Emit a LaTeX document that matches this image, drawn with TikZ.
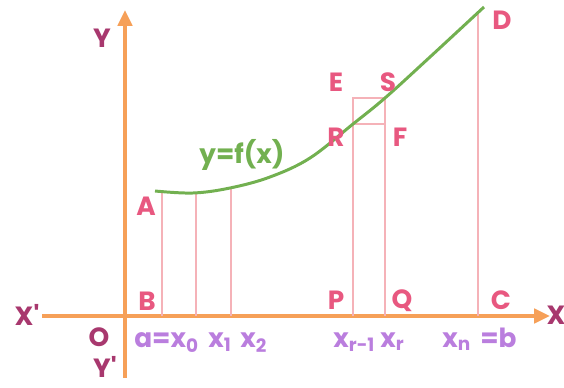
\documentclass[tikz,border=0pt]{standalone}
\usepackage{fontspec}
\newfontfamily\lblfont{Poppins}
\usetikzlibrary{arrows.meta}
\definecolor{axisorange}{RGB}{246,160,88}
\definecolor{ptpink}{RGB}{232,88,128}
\definecolor{axmagenta}{RGB}{168,56,110}
\definecolor{subpurple}{RGB}{186,126,222}
\definecolor{curvegreen}{RGB}{114,176,80}
\definecolor{ordpink}{RGB}{245,178,184}
\tikzset{
    axis/.style={draw=axisorange, line width=2.3pt,
                 -{Triangle[length=9pt,width=8pt]}},
    curve/.style={draw=curvegreen, line width=1.7pt},
    ord/.style={draw=ordpink, line width=1.2pt},
    ptlbl/.style={text=ptpink, font=\lblfont\bfseries\fontsize{15}{17}\selectfont,
                  inner sep=0pt},
    axlbl/.style={text=axmagenta, font=\lblfont\bfseries\fontsize{15}{17}\selectfont,
                  inner sep=0pt},
    xlbl/.style={text=subpurple, font=\lblfont\bfseries\fontsize{15}{17}\selectfont,
                 inner sep=0pt, anchor=base west},
}

\begin{document}
\begin{tikzpicture}[x=0.02cm, y=-0.02cm]
    \useasboundingbox (0,0) rectangle (564,388);

    % axes
    \coordinate (xl) at (42,316);
    \coordinate (xr) at (550,316);
    \coordinate (yb) at (125,378);
    \coordinate (yt) at (125,10);
    \draw[axis] (xl) -- (xr);
    \draw[axis] (yb) -- (yt);

    % feet of the ordinates on the x axis
    \coordinate (b0) at (162,316);
    \coordinate (b1) at (196,316);
    \coordinate (b2) at (231,316);
    \coordinate (bp) at (353,316);
    \coordinate (bq) at (385,316);
    \coordinate (bn) at (478,316);
    % tops of the ordinates
    \coordinate (t0) at (162,191.5);
    \coordinate (t1) at (196,193);
    \coordinate (t2) at (231,188);
    \coordinate (tr) at (353,124);
    \coordinate (te) at (353,98);
    \coordinate (ts) at (385,98);
    \coordinate (tf) at (385,124);
    \coordinate (td) at (478,12);

    \draw[ord] (b0) -- (t0);
    \draw[ord] (b1) -- (t1);
    \draw[ord] (b2) -- (t2);
    \draw[ord] (bp) -- (te) -- (ts) -- (bq);
    \draw[ord] (tr) -- (tf);
    \draw[ord] (bn) -- (td);

    % y = f(x)
    \draw[curve] plot[smooth, tension=0.6] coordinates
        {(155,191) (193,193) (230,188) (270,177) (310,158) (353,124)
         (385,98) (430,57) (484,7)};
    \node[text=curvegreen, font=\lblfont\bfseries\fontsize{15}{17}\selectfont,
          inner sep=0pt] (fx) at (242,155) {y=f(x)};

    % axis names
    \node[axlbl] (X')  at (27,315)  {X'};
    \node[axlbl] (X)   at (556,315) {X};
    \node[axlbl] (Y)   at (102,38)  {Y};
    \node[axlbl] (Y')  at (105,367) {Y'};
    \node[axlbl] (O)   at (99,337)  {O};

    % points
    \node[ptlbl] (A) at (146,206) {A};
    \node[ptlbl] (B) at (147,301) {B};
    \node[ptlbl] (P) at (336,300) {P};
    \node[ptlbl] (Q) at (402,301) {Q};
    \node[ptlbl] (C) at (501,300) {C};
    \node[ptlbl] (D) at (502,20)  {D};
    \node[ptlbl] (E) at (336,82)  {E};
    \node[ptlbl] (S) at (388,82)  {S};
    \node[ptlbl] (R) at (336,137) {R};
    \node[ptlbl] (F) at (400,137) {F};

    % division points
    \node[xlbl] (lx0) at (134,347) {a=x\textsubscript{0}};
    \node[xlbl] (lx1) at (208,347) {x\textsubscript{1}};
    \node[xlbl] (lx2) at (240,347) {x\textsubscript{2}};
    \node[xlbl] (lxp) at (333,347) {x\textsubscript{r-1}};
    \node[xlbl] (lxq) at (380,347) {x\textsubscript{r}};
    \node[xlbl] (lxn) at (442,347) {x\textsubscript{n}};
    \node[xlbl] (lb)  at (480,347) {=b};
\end{tikzpicture}
\end{document}
